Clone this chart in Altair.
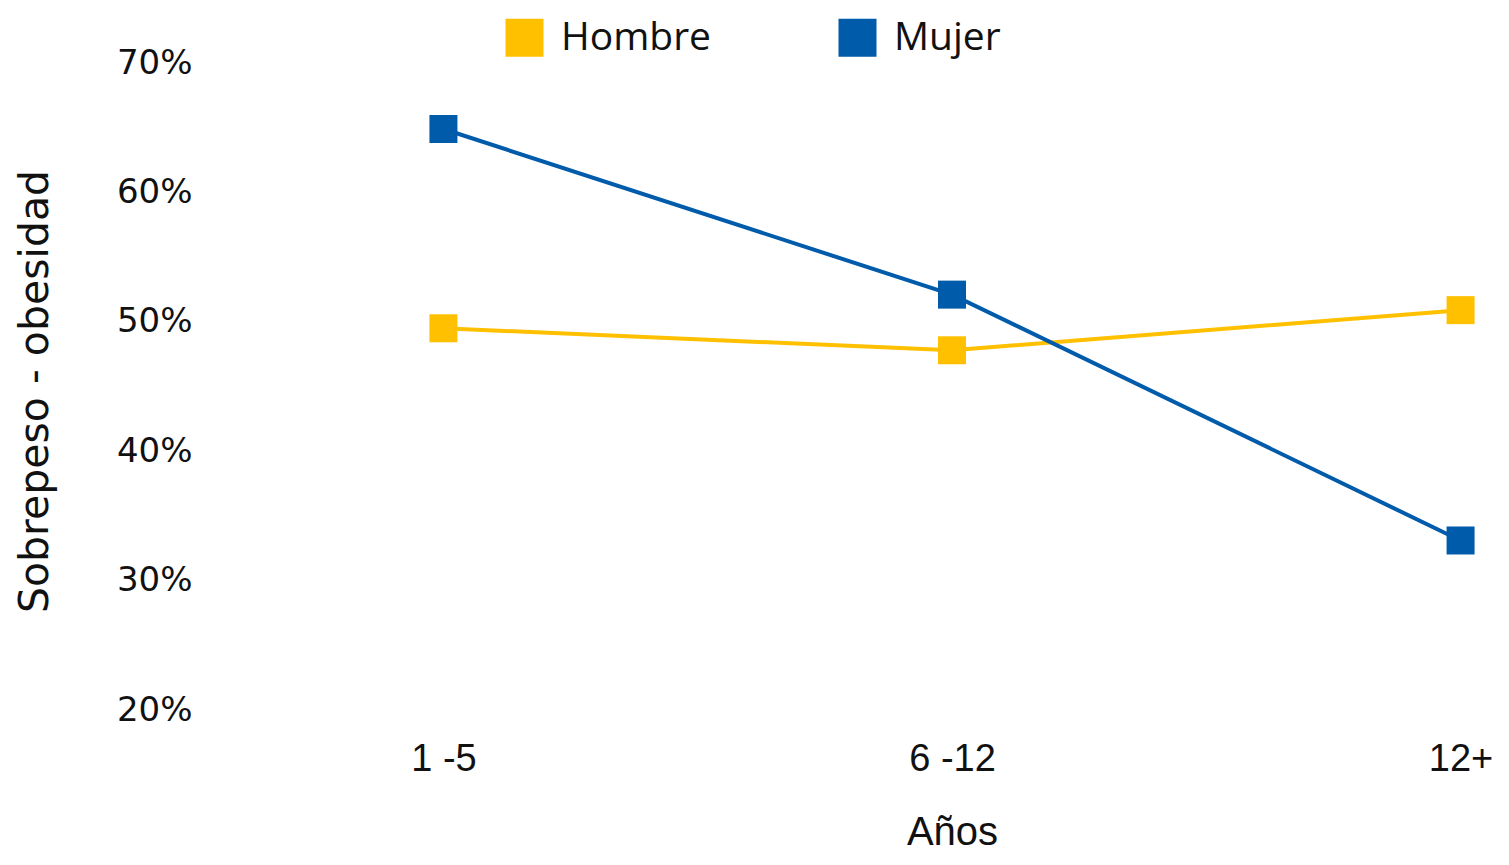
import altair as alt
import pandas as pd

categorias = ["1 -5", "6 -12", "12+"]
hombre = [49.5, 47.8, 50.9]
mujer = [64.9, 52.1, 33.1]
series = ["Hombre", "Mujer"]
colores = ["#FFC000", "#005BAA"]
y_ticks = [20, 30, 40, 50, 60, 70]

rows = []
for s, vals in zip(series, [hombre, mujer]):
    for c, v in zip(categorias, vals):
        rows.append({"Edad": c, "Serie": s, "Valor": v})
df = pd.DataFrame(rows)

x = alt.X("Edad:N", sort=categorias, scale=alt.Scale(type="point", padding=0.05),
          axis=alt.Axis(title="Años", labelAngle=0, domain=False, ticks=False, grid=False,
                        labelFont="Liberation Sans", labelFontSize=38, labelColor="#111",
                        labelPadding=30, titleFont="Liberation Sans", titleFontSize=40,
                        titleFontWeight="normal", titleColor="#111", titlePadding=34))
y = alt.Y("Valor:Q", scale=alt.Scale(domain=[20, 70], nice=False, zero=False),
          axis=alt.Axis(title="Sobrepeso - obesidad", values=y_ticks, labelExpr="datum.value + '%'",
                        domain=False, ticks=False, grid=False,
                        labelFont="DejaVu Sans", labelFontSize=34, labelColor="#111",
                        labelPadding=226, titleFont="DejaVu Sans", titleFontSize=41,
                        titleFontWeight="normal", titleColor="#111",
                        titleAngle=-90, titleAlign="center", titleBaseline="top",
                        titleX=-403, titleY=328))
color = alt.Color("Serie:N", scale=alt.Scale(domain=series, range=colores),
                  legend=alt.Legend(title=None, orient="none", legendX=87, legendY=-45,
                                    direction="horizontal", symbolType="square", symbolSize=1444,
                                    symbolStrokeWidth=0, labelFont="Open Sans", labelFontSize=39,
                                    labelColor="#111", labelOffset=17, columnPadding=126, padding=0))

base = alt.Chart(df).encode(x=x, y=y, color=color, detail="Serie:N")
lines = base.mark_line(strokeWidth=4)
points = base.mark_point(shape="square", size=784, filled=True, opacity=1)

chart = (lines + points).properties(
    width=1068, height=647,
    padding={"top": 10, "left": 5, "right": 5, "bottom": 0},
).configure(background="white").configure_view(stroke=None, strokeWidth=0)

chart.save("out.html", embed_options={"renderer": "svg", "actions": False})
